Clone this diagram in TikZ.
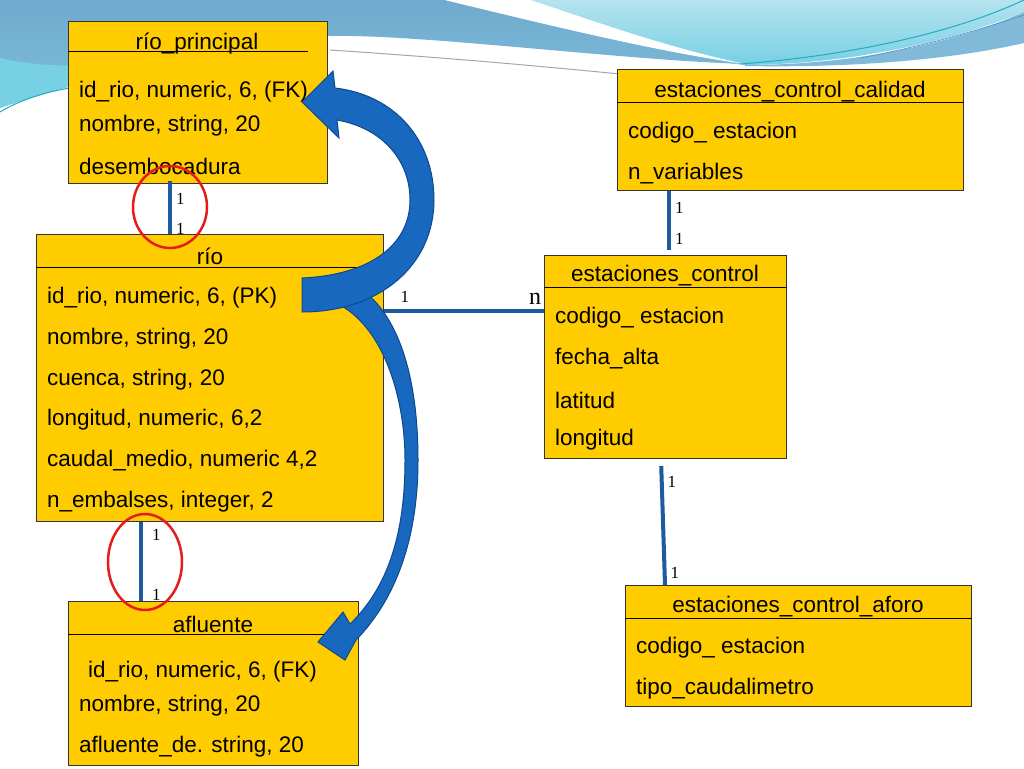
\documentclass[tikz,border=0pt]{standalone}
\usepackage{fontspec}
\setmainfont{Liberation Sans}
\newfontfamily\relfont{Liberation Serif}
\usepackage{tikz}

\definecolor{oro}{RGB}{255,204,0}
\definecolor{azul}{RGB}{31,90,160}
\definecolor{azulf}{RGB}{24,104,192}
\definecolor{azulb}{RGB}{14,72,142}
\definecolor{rojo}{RGB}{228,28,28}
\definecolor{ola}{RGB}{128,186,216}
\definecolor{olaoscura}{RGB}{112,170,206}
\definecolor{olaclara}{RGB}{172,224,236}
\definecolor{olaturq}{RGB}{120,208,228}
\definecolor{linea}{RGB}{40,170,190}

\begin{document}
\begin{tikzpicture}[x=1pt,y=-1pt,
    tabla/.style={draw=black!80,line width=1pt,fill=oro,anchor=north west,inner sep=0pt},
    cab/.style={font=\fontsize{22.5}{26}\selectfont,inner sep=0pt,yshift=-2pt},
    campo/.style={font=\fontsize{22.5}{26}\selectfont,anchor=west,inner sep=0pt,yshift=-2pt},
    rel/.style={draw=azul,line width=4pt},
    card/.style={font=\relfont\fontsize{17}{20}\selectfont,inner sep=1pt},
    marca/.style={draw=rojo,line width=2.5pt},
    flecha/.style={fill=azulf,draw=azulb,line width=1pt}]
    \useasboundingbox (0,0) rectangle (1024,768);
    \fill[white] (0,0) rectangle (1024,768);

    % fondo de la diapositiva
    \shade[top color=olaclara!90!white,bottom color=olaturq] (440,0) -- (1024,0) -- (1024,12)
        .. controls (950,42) and (850,64) .. (745,65) .. controls (660,55) and (560,30) .. (440,0) -- cycle;
    \shade[top color=olaoscura,bottom color=ola!80!olaturq] (0,0) -- (445,0) .. controls (560,28) and (660,52) .. (745,64)
        .. controls (620,60) and (420,34) .. (330,36) .. controls (200,38) and (80,70) .. (0,108) -- cycle;
    \fill[olaturq] (0,58) .. controls (60,72) and (130,66) .. (210,44) .. controls (120,74) and (60,88) .. (0,108) -- cycle;
    \fill[white] (445,0) .. controls (560,28) and (660,52) .. (745,64) .. controls (660,46) and (580,16) .. (530,0) -- cycle;
    \fill[ola] (745,65) .. controls (850,65) and (950,45) .. (1024,12) -- (1024,43)
        .. controls (950,60) and (850,68) .. (745,66) -- cycle;
    \draw[linea,line width=1pt] (740,64) .. controls (860,55) and (960,30) .. (1024,0);
    \draw[azulf!70,line width=0.8pt] (860,58) .. controls (930,45) and (985,28) .. (1024,15);
    \draw[gray!70,line width=1pt] (330,50) .. controls (450,58) and (540,66) .. (640,76);
    \draw[linea,line width=1pt] (0,112) .. controls (20,100) and (45,92) .. (70,88);

    % tablas
    \node[tabla,minimum width=259pt,minimum height=162pt] (rioprin) at (68,21) {};
    \draw[line width=1pt] ([yshift=-31pt]rioprin.north west) -- ([xshift=-20pt,yshift=-31pt]rioprin.north east);
    \node[cab] at (197,42) {río\_principal};
    \node[campo] at (79,90) {id\_rio, numeric, 6, (FK)};
    \node[campo] at (79,124) {nombre, string, 20};
    \node[campo] at (79,164) {desembocadura};

    \node[tabla,minimum width=347pt,minimum height=287pt] (rio) at (36,234) {};
    \draw[line width=1pt] ([yshift=-33pt]rio.north west) -- ([yshift=-33pt]rio.north east);
    \node[cab] at (210,254) {río};
    \node[campo] at (47,296) {id\_rio, numeric, 6, (PK)};
    \node[campo] at (47,337) {nombre, string, 20};
    \node[campo] at (47,378) {cuenca, string, 20};
    \node[campo] at (47,418) {longitud, numeric, 6,2};
    \node[campo] at (47,459) {caudal\_medio, numeric 4,2};
    \node[campo] at (47,500) {n\_embalses, integer, 2};

    \node[tabla,minimum width=290pt,minimum height=164pt] (afl) at (68,601) {};
    \draw[line width=1pt] ([yshift=-33pt]afl.north west) -- ([yshift=-33pt]afl.north east);
    \node[cab] at (213,622) {afluente};
    \node[campo] at (88,670) {id\_rio, numeric, 6, (FK)};
    \node[campo] at (79,704) {nombre, string, 20};
    \node[campo] at (79,745) {afluente\_de. string, 20};

    \node[tabla,minimum width=346pt,minimum height=121pt] (ecc) at (617,69) {};
    \draw[line width=1pt] ([yshift=-33pt]ecc.north west) -- ([yshift=-33pt]ecc.north east);
    \node[cab] at (790,90) {estaciones\_control\_calidad};
    \node[campo] at (628,131) {codigo\_ estacion};
    \node[campo] at (628,172) {n\_variables};

    \node[tabla,minimum width=242pt,minimum height=203pt] (ec) at (544,255) {};
    \draw[line width=1pt] ([yshift=-32pt]ec.north west) -- ([yshift=-32pt]ec.north east);
    \node[cab] at (665,274) {estaciones\_control};
    \node[campo] at (555,316) {codigo\_ estacion};
    \node[campo] at (555,357) {fecha\_alta};
    \node[campo] at (555,398) {latitud};
    \node[campo] at (555,438) {longitud};

    \node[tabla,minimum width=346pt,minimum height=121pt] (eca) at (625,585) {};
    \draw[line width=1pt] ([yshift=-33pt]eca.north west) -- ([yshift=-33pt]eca.north east);
    \node[cab] at (798,605) {estaciones\_control\_aforo};
    \node[campo] at (636,646) {codigo\_ estacion};
    \node[campo] at (636,687) {tipo\_caudalimetro};

    % relaciones
    \draw[rel,shorten <=-3pt] (170,0 |- rioprin.south) -- (170,0 |- rio.north)
        node[card,pos=0.3,right=3pt] {1} node[card,pos=0.9,right=3pt] {1};
    \draw[rel] (141,0 |- rio.south) -- (141,0 |- afl.north)
        node[card,pos=0.16,right=8pt] {1} node[card,pos=0.92,right=8pt] {1};
    \draw[rel] (rio.east |- 0,311) -- (ec.west |- 0,311)
        node[card,pos=0.13,above=6pt] {1}
        node[pos=0.945,above=5pt,inner sep=0pt,font=\relfont\fontsize{24}{26}\selectfont] {n};
    \draw[rel,shorten >=5pt] (669,0 |- ecc.south) -- (669,0 |- ec.north)
        node[card,pos=0.27,right=3pt] {1} node[card,pos=0.75,right=3pt] {1};
    \draw[rel,shorten <=7pt] (661,0 |- ec.south) -- (665,0 |- eca.north)
        node[card,pos=0.18,right=3pt] {1} node[card,pos=0.9,right=3pt] {1};

    % marcas
    \draw[marca] (170,207) ellipse [x radius=37, y radius=41];
    \draw[marca] (145,562) ellipse [x radius=37, y radius=48];

    % flechas curvas
    \filldraw[flecha] (340,305) .. controls (385,330) and (405,400) .. (405,460)
        .. controls (405,540) and (385,590) .. (350,624) -- (343,612) -- (318,642) -- (345,660) -- (356,640)
        .. controls (395,600) and (418,540) .. (418,460) .. controls (418,380) and (400,320) .. (365,292) -- cycle;
    \filldraw[flecha] (302,278) .. controls (370,275) and (410,245) .. (410,200)
        .. controls (410,160) and (382,128) .. (337,120) -- (339,138) -- (302,102) -- (333,71) -- (335,88)
        .. controls (395,95) and (434,140) .. (434,200) .. controls (434,265) and (380,312) .. (302,312) -- cycle;
\end{tikzpicture}
\end{document}
